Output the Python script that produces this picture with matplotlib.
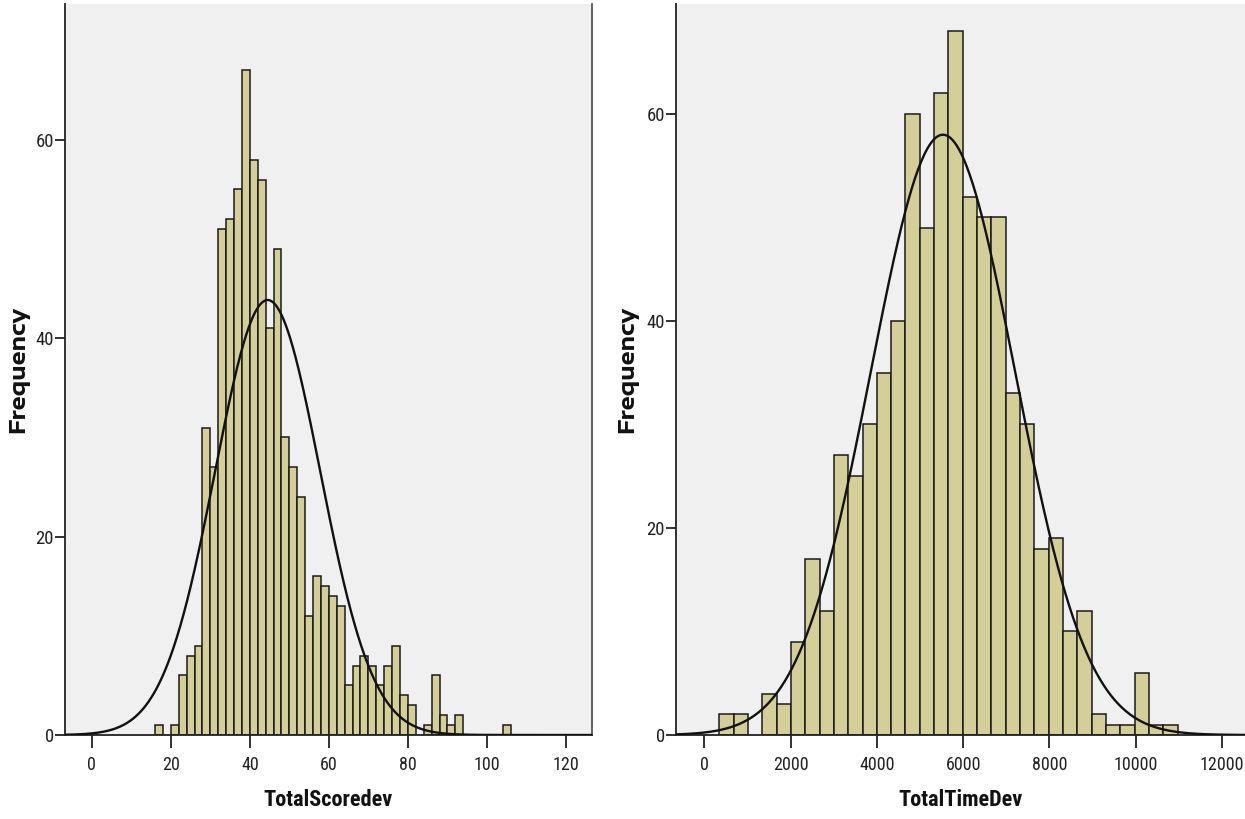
import numpy as np
import matplotlib
matplotlib.use("Agg")
import matplotlib.pyplot as plt

# TotalScoredev histogram (bin width 2, first bin starts at 16)
scoreEdgeStart = 16
scoreBinWidth = 2
scoreCounts = [1, 0, 1, 6, 8, 9, 31, 27, 51, 52, 55, 67, 58, 56, 41, 49, 30, 27,
               24, 12, 16, 15, 14, 13, 5, 7, 8, 7, 5, 7, 9, 4, 3, 0, 1, 6, 2, 1,
               2, 0, 0, 0, 0, 0, 1]
scoreMean = 44.5
scoreSd = 13.3
scoreXTicks = [0, 20, 40, 60, 80, 100, 120]

# TotalTimeDev histogram
timeEdgeStart = 345
timeBinWidth = 332
timeCounts = [2, 2, 0, 4, 3, 9, 17, 12, 27, 25, 30, 35, 40, 60, 49, 62, 68, 52,
              50, 50, 33, 30, 18, 19, 10, 12, 2, 1, 1, 6, 1, 1]
timeMean = 5530
timeSd = 1670
timeXTicks = [0, 2000, 4000, 6000, 8000, 10000, 12000]

yTicks = [0, 20, 40, 60]

BAR_COLOR = '#D4CE98'
BG_COLOR = '#F0F0F0'
NARROW = ['Roboto Condensed', 'DejaVu Sans']
WIDE = ['Encode Sans Expanded', 'DejaVu Sans']


def drawHist(ax, start, width, counts, mean, sd, xlim, ylim, xticks, xlabel):
    counts = np.array(counts)
    lefts = start + width * np.arange(len(counts))
    keep = counts > 0
    ax.bar(lefts[keep], counts[keep], width=width, align='edge',
           color=BAR_COLOR, edgecolor='#1a1a1a', linewidth=1.1, zorder=2)

    # fitted normal curve
    n = counts.sum()
    x = np.linspace(xlim[0], xlim[1], 600)
    y = n * width / (sd * np.sqrt(2 * np.pi)) * np.exp(-(x - mean) ** 2 / (2 * sd ** 2))
    ax.plot(x, y, color='#111111', linewidth=1.7, zorder=3)

    ax.set_facecolor(BG_COLOR)
    ax.set_xlim(xlim)
    ax.set_ylim(ylim)
    ax.set_xticks(xticks)
    ax.set_yticks(yTicks)
    ax.tick_params(axis='x', direction='out', length=9, width=1.3, pad=6,
                   colors='#222222', labelsize=13)
    ax.tick_params(axis='y', direction='out', length=7, width=1.3, pad=1,
                   colors='#222222', labelsize=13.5)
    for lab in ax.get_xticklabels() + ax.get_yticklabels():
        lab.set_family(NARROW)

    ax.set_xlabel(xlabel, fontsize=16, fontweight='bold', family=NARROW,
                  va='center', color='#111111')
    ax.xaxis.set_label_coords(0.5, -0.089)
    ax.set_ylabel('Frequency', fontsize=16, fontweight='bold', family=WIDE,
                  va='center', ha='center', color='#111111')

    ax.spines['top'].set_visible(False)
    ax.spines['left'].set_color('#222222')
    ax.spines['bottom'].set_color('#222222')
    ax.spines['left'].set_linewidth(1.3)
    ax.spines['bottom'].set_linewidth(1.3)


fig = plt.figure(figsize=(12.45, 8.19), dpi=100)
fig.patch.set_facecolor('white')

ax1 = fig.add_axes([65 / 1245, 84 / 819, 527 / 1245, 731 / 819])
drawHist(ax1, scoreEdgeStart, scoreBinWidth, scoreCounts, scoreMean, scoreSd,
         (-6.8, 126.6), (0, 73.7), scoreXTicks, 'TotalScoredev')
ax1.yaxis.set_label_coords(-0.089, 0.5)
ax1.spines['right'].set_color('#555555')
ax1.spines['right'].set_linewidth(1.3)

ax2 = fig.add_axes([676 / 1245, 84 / 819, 569 / 1245, 731 / 819])
drawHist(ax2, timeEdgeStart, timeBinWidth, timeCounts, timeMean, timeSd,
         (-660, 12533), (0, 70.6), timeXTicks, 'TotalTimeDev')
ax2.yaxis.set_label_coords(-0.086, 0.5)
ax2.spines['right'].set_visible(False)

fig.savefig('out.png', dpi=100)
